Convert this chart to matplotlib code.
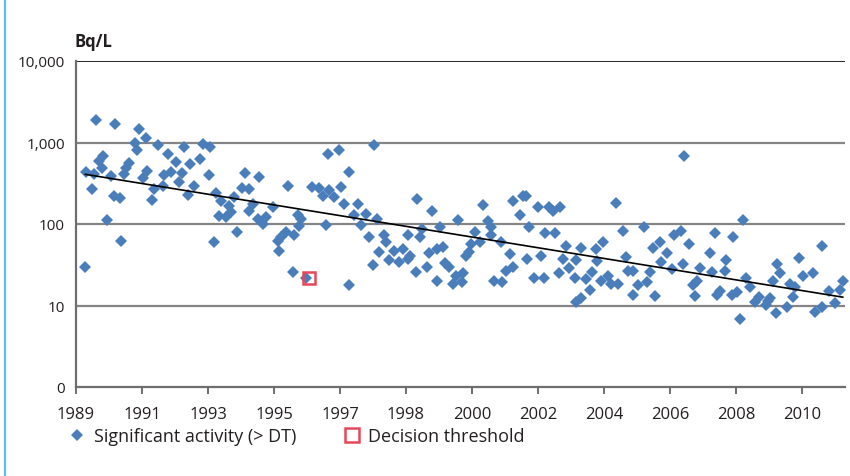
import numpy as np
import matplotlib
matplotlib.use("Agg")
import matplotlib.pyplot as plt
from matplotlib.lines import Line2D
from matplotlib.ticker import FixedLocator, FixedFormatter, NullLocator

plt.rcParams['font.family'] = ['Open Sans', 'DejaVu Sans']

# sampling date (decimal year) and activity (Bq/L), values > decision threshold
anos = [
    1989.58, 1990.14, 1990.83, 1991.03, 1990.72, 1990.76, 1991.38, 1992.12, 1992.67, 1992.89,
    1989.77, 1989.66, 1989.75, 1989.29, 1989.53, 1990.01, 1990.54, 1990.45, 1990.40, 1991.05,
    1990.93, 1991.65, 1991.89, 1992.31, 1992.59, 1991.75, 1991.55, 1992.07, 1991.99, 1992.84,
    1992.42, 1992.23, 1991.51, 1991.27, 1991.20, 1989.45, 1990.11, 1990.28, 1993.05, 1993.20,
    1993.13, 1993.34, 1989.89, 1990.30, 1993.00, 1989.27,
    1997.61, 1996.30, 1996.60, 1993.90, 1994.30, 1996.91, 1995.12, 1993.80, 1994.01, 1995.83,
    1996.04, 1996.33, 1996.14, 1996.47, 1996.67, 1993.58, 1993.43, 1993.48, 1994.11, 1994.01,
    1994.69, 1994.26, 1994.50, 1994.40, 1995.41, 1995.51, 1995.44, 1996.76, 1997.15, 1997.03,
    1997.39, 1997.70, 1997.25, 1996.23, 1993.65, 1995.08, 1994.93, 1995.30, 1994.84, 1994.88,
    1997.47, 1997.76, 1997.58, 1995.27, 1995.65, 1996.91,
    1998.87, 1999.30, 2000.06, 2000.77, 2001.65, 2001.92, 2001.85, 1999.54, 1999.01, 1998.60,
    1997.92, 1997.97, 1998.96, 2000.54, 2000.91, 2001.01, 2001.01, 2000.70, 2000.43, 2000.38,
    2000.28, 1998.21, 1998.45, 1998.06, 1998.34, 1998.67, 1998.60, 1999.22, 1999.44, 1999.61,
    1998.84, 1999.15, 1999.66, 1999.80, 1999.44, 1999.99, 2000.20, 1999.90, 2000.17, 2001.10,
    2001.32, 2001.30, 2001.54, 2001.44, 2001.65, 2002.10, 2002.05,
    2006.60, 2002.02, 2002.37, 2002.69, 2002.79, 2003.01, 2004.62, 2002.58, 2002.86, 2003.18,
    2003.61, 2004.24, 2004.04, 2004.82, 2005.44, 2006.29, 2006.50, 2005.68, 2005.90, 2006.09,
    2002.45, 2003.08, 2003.47, 2003.27, 2004.07, 2004.91, 2004.96, 2005.11, 2005.92, 2006.24,
    2006.55, 2002.26, 2002.55, 2002.98, 2003.42, 2003.75, 2003.93, 2003.88, 2004.19, 2004.38,
    2004.48, 2004.67, 2005.25, 2005.51, 2005.59, 2005.11, 2005.76, 2003.61, 2003.47,
    2008.29, 2007.49, 2008.00, 2006.74, 2010.57, 2007.34, 2007.80, 2009.92, 2007.05, 2007.39,
    2007.78, 2009.27, 2009.37, 2010.04, 2010.31, 2008.38, 2009.17, 2009.64, 2009.80, 2011.18,
    2006.96, 2006.84, 2008.50, 2006.91, 2007.54, 2007.63, 2007.97, 2008.11, 2008.76, 2008.64,
    2009.01, 2009.08, 2008.96, 2009.75, 2009.56, 2009.25, 2010.38, 2010.57, 2010.78, 2011.10,
    2010.96, 2008.21,
]
atividade = [
    1900, 1700, 1480, 1120, 1000, 820, 920, 880, 950, 880,
    680, 590, 480, 435, 407, 388, 565, 480, 407, 445,
    371, 715, 575, 540, 630, 435, 396, 427, 323, 396,
    293, 226, 293, 272, 198, 267, 218, 206, 239, 192,
    126, 122, 112, 61, 60, 30,
    920, 730, 805, 427, 378, 435, 293, 280, 267, 285,
    280, 262, 218, 212, 288, 212, 167, 139, 175, 145,
    160, 115, 121, 100, 129, 115, 95, 175, 175, 129,
    132, 115, 97, 97, 79, 79, 69, 73, 61, 47,
    70, 45, 31, 26, 22, 18,
    202, 143, 112, 171, 189, 218, 130, 91, 87, 73,
    73, 60, 70, 79, 110, 91, 73, 60, 57, 45,
    40, 47, 50, 36, 34, 41, 37, 44, 50, 52,
    26, 30, 33, 30, 20, 23, 25, 18.5, 19.5, 20,
    19.5, 60, 43, 26.5, 30, 91, 37,
    680, 221, 160, 160, 145, 160, 179, 77, 77, 54,
    51, 60, 49, 81, 91, 73, 83, 51, 60, 44,
    41, 37, 36, 29, 35, 39, 26.5, 26.5, 34, 28,
    32, 22, 22, 25, 22, 21, 26, 15.7, 20, 23,
    18.5, 18.5, 17.7, 19.5, 26, 13.6, 13, 12.2, 10.9,
    113, 77, 69, 57, 53, 44, 36, 38, 29, 26,
    26.5, 32, 25, 23, 25, 22, 20, 18.5, 16.9, 20,
    20, 17.7, 16.9, 13.1, 13.4, 14.9, 13.4, 14.7, 12.8, 11.1,
    11.3, 12.2, 10.1, 12.8, 9.6, 8.2, 8.4, 9.6, 14.9, 15.4,
    10.6, 6.9,
]

# result below the decision threshold
dt_ano = [1995.74]
dt_valor = [21.5]

ticks_ano = 1989 + np.arange(12) * 21 / 11
rotulos_x = ['1989', '1991', '1993', '1995', '1997', '1998',
             '2000', '2002', '2004', '2006', '2008', '2010']
ticks_y = [1, 10, 100, 1000, 10000]
rotulos_y = ['0', '10', '100', '1,000', '10,000']

azul = '#4A7EBB'
vermelho = '#E8465A'
cinza = '#858585'
texto = '#231F20'

fig = plt.figure(figsize=(8.5, 4.77), dpi=100)
ax = fig.add_axes([76 / 850, 1 - 388 / 477, 769 / 850, 326 / 477])

ax.set_yscale('log')
ax.set_ylim(1, 10000)
ax.set_xlim(1989, 1989 + 769 / 66 * 21 / 11)

ax.yaxis.set_major_locator(FixedLocator(ticks_y))
ax.yaxis.set_major_formatter(FixedFormatter(rotulos_y))
ax.yaxis.set_minor_locator(NullLocator())
ax.set_xticks(ticks_ano)
ax.set_xticklabels(rotulos_x)

for v in [10, 100, 1000]:
    ax.axhline(v, color=cinza, lw=1.6, zorder=1)
ax.axhline(10000, color='black', lw=1.2, zorder=1)

ax.plot(anos, atividade, 'D', color=azul, ms=5.8, mew=0, zorder=3, clip_on=False)
ax.plot(dt_ano, dt_valor, 's', mfc='none', mec=vermelho, ms=9, mew=1.8, zorder=4)

# exponential trend line (log-linear least squares)
a, b = np.polyfit(anos, np.log10(atividade), 1)
xt = np.array([min(anos), max(anos)])
ax.plot(xt, 10 ** (a * xt + b), color='black', lw=1.2, zorder=5)

for lado in ['top', 'right']:
    ax.spines[lado].set_visible(False)
for lado in ['left', 'bottom']:
    ax.spines[lado].set_color('#6E6E6E')
    ax.spines[lado].set_linewidth(1.6)

ax.tick_params(axis='y', length=0, pad=8, labelsize=11, labelcolor=texto)
ax.tick_params(axis='x', length=5, width=1.4, color='#6E6E6E', direction='out',
               pad=9, labelsize=12, labelcolor=texto)

fig.text(75 / 850, 1 - 42 / 477, 'Bq/L', fontsize=12, fontweight='bold',
         color=texto, va='center', ha='left')

h1 = Line2D([], [], marker='D', ls='none', color=azul, ms=6.2, mew=0)
h2 = Line2D([], [], marker='s', ls='none', mfc='none', mec=vermelho, ms=9.5, mew=1.8)
fig.legend([h1, h2], ['Significant activity (> DT)', 'Decision threshold'],
           loc='center left', bbox_to_anchor=(52 / 850, 1 - 437 / 477),
           ncol=2, frameon=False, fontsize=13, handlelength=1.0,
           handletextpad=0.4, columnspacing=2.6, labelcolor=texto)

fig.add_artist(Line2D([5 / 850, 5 / 850], [0, 1], color='#5BC2E7', lw=1.6))

fig.savefig('out.png', dpi=100)
